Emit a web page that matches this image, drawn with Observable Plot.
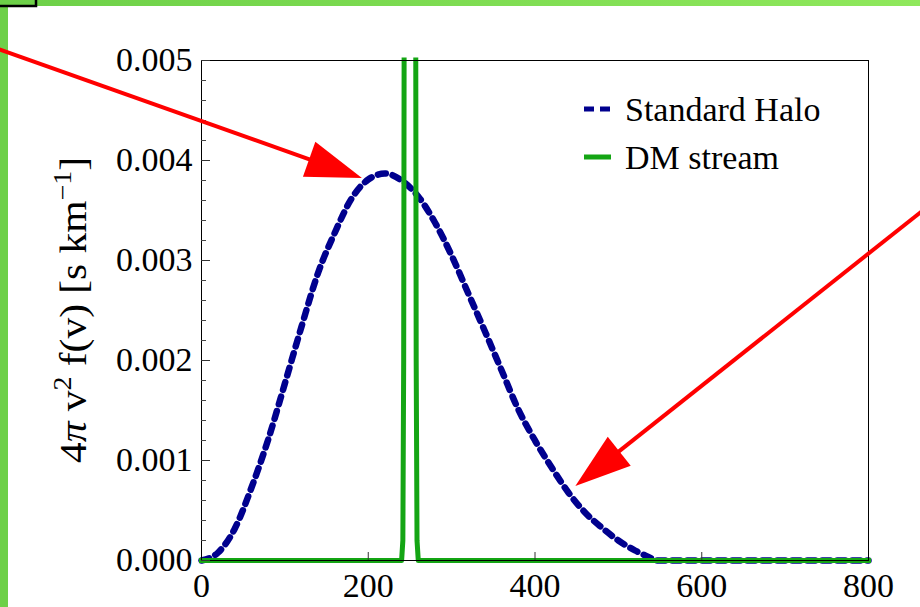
<!DOCTYPE html>
<html>
<head>
<meta charset="utf-8">
<script src="https://cdn.jsdelivr.net/npm/d3@7"></script>
<script src="https://cdn.jsdelivr.net/npm/@observablehq/plot@0.6"></script>
<style>
  html, body { margin: 0; padding: 0; background: #ffffff; width: 920px; height: 607px; overflow: hidden; }
  #chart { position: relative; width: 920px; height: 607px; }
</style>
</head>
<body>
<div id="chart"></div>
<script>
// ---- data ----
const haloV = [0, 20, 40, 60, 80, 100, 120, 140, 160, 180, 200, 220, 240, 260, 280, 300, 320, 340, 360, 380, 400, 420, 440, 460, 480, 500, 520, 540, 545, 800];
const haloF = [0, 0.00008, 0.00032, 0.00073, 0.00121, 0.00177, 0.00234, 0.00288, 0.00328, 0.00362, 0.00381, 0.00387, 0.0038, 0.00364, 0.00338, 0.00305, 0.00267, 0.00229, 0.0019, 0.00151, 0.0012, 0.00093, 0.00068, 0.00048, 0.00033, 0.0002, 0.0001, 0.00002, 0, 0];

const streamV = [0, 240, 241.5, 242.5, 243.5, 244.5, 246, 250, 254, 255.5, 256.5, 257.5, 258.5, 260, 800];
const streamF = [0, 0, 0.0002, 0.002, 0.008, 0.02, 0.05, 0.1, 0.05, 0.02, 0.008, 0.002, 0.0002, 0, 0];

const seriesNames = ["Standard Halo", "DM stream"];
const seriesColors = ["#00008e", "#14a514"];

const xTicks = [0, 200, 400, 600, 800];
const xTickLabels = ["0", "200", "400", "600", "800"];
const yTicks = [0, 0.001, 0.002, 0.003, 0.004, 0.005];
const yTickLabels = ["0.000", "0.001", "0.002", "0.003", "0.004", "0.005"];
const yMinorTicks = [0.0002, 0.0004, 0.0006, 0.0008, 0.0012, 0.0014, 0.0016, 0.0018, 0.0022, 0.0024, 0.0026, 0.0028, 0.0032, 0.0034, 0.0036, 0.0038, 0.0042, 0.0044, 0.0046, 0.0048];

const yTitleParts = [
  {t: "4"}, {t: "π", italic: true}, {t: " v"}, {t: "2", sup: true}, {t: " f(v) [s km"}, {t: "−1", sup: true}, {t: "]"}
];

// annotation arrows (start and tip, in data units)
const arrowStartV = [-253, 874];
const arrowStartF = [0.00514, 0.00355];
const arrowTipV = [193, 449];
const arrowTipF = [0.00382, 0.00074];

// ---- build ----
const halo = haloV.map((v, i) => ({v, f: haloF[i]}));
const stream = streamV.map((v, i) => ({v, f: streamF[i]}));
const FONT = "'Liberation Serif', 'Times New Roman', serif";

const plot = Plot.plot({
  width: 920,
  height: 607,
  marginLeft: 201,
  marginRight: 52,
  marginTop: 60,
  marginBottom: 47,
  style: {fontFamily: FONT, fontSize: "34px", background: "transparent", color: "#000", overflow: "visible"},
  x: {domain: [0, 800]},
  y: {domain: [0, 0.005]},
  marks: [
    Plot.line(halo, {x: "v", y: "f", stroke: seriesColors[0], strokeWidth: 6.5, strokeDasharray: "8,7", curve: "monotone-x"}),
    Plot.line(stream, {x: "v", y: "f", stroke: seriesColors[1], strokeWidth: 5, strokeLinejoin: "round", strokeLinecap: "square"}),
    Plot.frame({stroke: "#000", strokeWidth: 1}),
    Plot.ruleY(yTicks, {y: d => d, x1: 0, x2: 0, insetRight: -9, stroke: "#333", strokeWidth: 1}),
    Plot.ruleY(yMinorTicks, {y: d => d, x1: 0, x2: 0, insetRight: -5, stroke: "#444", strokeWidth: 1}),
    Plot.ruleX(xTicks.slice(1, -1), {x: d => d, y1: 0, y2: 0, insetBottom: 8, stroke: "#333", strokeWidth: 1}),
    Plot.axisX({ticks: xTicks, tickSize: 0, tickPadding: 12, fontSize: 34, label: null,
      tickFormat: d => xTickLabels[xTicks.indexOf(d)]}),
    Plot.axisY({ticks: yTicks, tickSize: 0, tickPadding: 9, fontSize: 34, label: null,
      tickFormat: d => yTickLabels[yTicks.indexOf(d)]})
  ]
});

document.getElementById("chart").appendChild(plot);

const svg = d3.select(plot);
const sx = plot.scale("x"), sy = plot.scale("y");
const X = v => sx.range[0] + (v - sx.domain[0]) / (sx.domain[1] - sx.domain[0]) * (sx.range[1] - sx.range[0]);
const Y = f => sy.range[0] + (f - sy.domain[0]) / (sy.domain[1] - sy.domain[0]) * (sy.range[1] - sy.range[0]);

// clip the stream spike just above the top of the frame
const defs = svg.insert("defs", ":first-child");
defs.append("clipPath").attr("id", "streamclip").append("rect")
  .attr("x", 0).attr("y", Y(0.005) - 3).attr("width", 920).attr("height", 607);
const grad = defs.append("linearGradient").attr("id", "topgrad").attr("x1", 0).attr("x2", 1).attr("y1", 0).attr("y2", 0);
grad.append("stop").attr("offset", "0%").attr("stop-color", "#6dd048");
grad.append("stop").attr("offset", "100%").attr("stop-color", "#8fe85c");
const lineGroups = svg.selectAll('g[aria-label="line"]').nodes();
if (lineGroups.length > 1) d3.select(lineGroups[1]).attr("clip-path", "url(#streamclip)");

// slide border (green strips + black box corner)
const border = svg.insert("g", "defs + *");
border.append("rect").attr("x", 0).attr("y", 0).attr("width", 920).attr("height", 6).attr("fill", "url(#topgrad)");
border.append("rect").attr("x", 0).attr("y", 0).attr("width", 8).attr("height", 607).attr("fill", "#6dd048");
border.append("rect").attr("x", -5).attr("y", -5).attr("width", 41).attr("height", 11)
  .attr("fill", "none").attr("stroke", "#000").attr("stroke-width", 2.5);

// y-axis title with superscripts
const yt = svg.append("text")
  .attr("transform", `translate(86,${(Y(0) + Y(0.005)) / 2}) rotate(-90) scale(1.12,1)`)
  .attr("text-anchor", "middle")
  .attr("fill", "#000")
  .style("font-family", FONT)
  .style("font-size", "37px");
let raised = false;
yTitleParts.forEach(p => {
  const s = yt.append("tspan").text(p.t);
  if (p.italic) s.style("font-style", "italic");
  if (p.sup) { s.style("font-size", "25px").attr("dy", -15); raised = true; }
  else if (raised) { s.attr("dy", 15); raised = false; }
});

// legend
const lg = svg.append("g").style("font-family", FONT).style("font-size", "34px").attr("text-anchor", "start");
seriesNames.forEach((name, i) => {
  const cy = 109 + i * 48;
  lg.append("line").attr("x1", 584).attr("x2", 611).attr("y1", cy).attr("y2", cy)
    .attr("stroke", seriesColors[i]).attr("stroke-width", 5)
    .attr("stroke-dasharray", i === 0 ? "10,6" : null);
  lg.append("text").attr("x", 625).attr("y", cy + 12).attr("fill", "#000").attr("text-anchor", "start").text(name);
});

// red annotation arrows
const ar = svg.append("g");
arrowStartV.forEach((_, i) => {
  const x0 = X(arrowStartV[i]), y0 = Y(arrowStartF[i]);
  const x1 = X(arrowTipV[i]), y1 = Y(arrowTipF[i]);
  const L = Math.hypot(x1 - x0, y1 - y0);
  const ux = (x1 - x0) / L, uy = (y1 - y0) / L;
  const hl = 56, hw = 18.5;
  const bx = x1 - ux * hl, by = y1 - uy * hl;
  ar.append("line").attr("x1", x0).attr("y1", y0).attr("x2", bx + ux * 4).attr("y2", by + uy * 4)
    .attr("stroke", "#ff0000").attr("stroke-width", 4);
  ar.append("path")
    .attr("d", `M${x1},${y1}L${bx - uy * hw},${by + ux * hw}L${bx + uy * hw},${by - ux * hw}Z`)
    .attr("fill", "#ff0000");
});
</script>
</body>
</html>
